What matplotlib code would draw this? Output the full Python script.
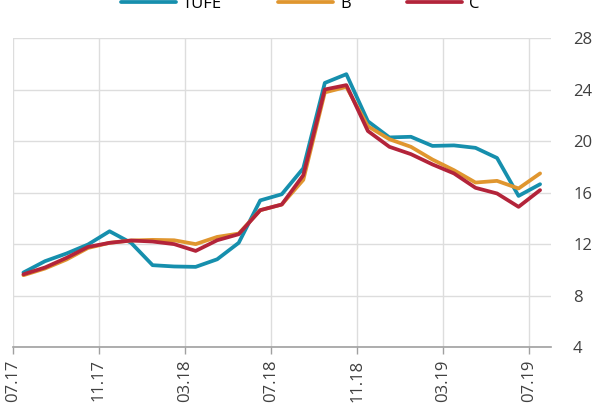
import matplotlib
matplotlib.use("Agg")
import matplotlib.pyplot as plt
import numpy as np

plt.rcParams['font.family'] = ['Open Sans', 'DejaVu Sans']

months = ["07.17", "08.17", "09.17", "10.17", "11.17", "12.17", "01.18", "02.18", "03.18",
          "04.18", "05.18", "06.18", "07.18", "08.18", "09.18", "10.18", "11.18", "12.18",
          "01.19", "02.19", "03.19", "04.19", "05.19", "06.19", "07.19"]
tufe = [9.79, 10.67, 11.27, 11.97, 13.0, 12.1, 10.36, 10.26, 10.23, 10.82, 12.1, 15.4, 15.88,
        17.9, 24.54, 25.22, 21.56, 20.3, 20.35, 19.64, 19.68, 19.49, 18.7, 15.75, 16.66]
b = [9.58, 10.1, 10.8, 11.7, 12.1, 12.28, 12.33, 12.3, 12.0, 12.56, 12.82, 14.64, 15.08,
     17.0, 23.8, 24.23, 21.17, 20.16, 19.57, 18.58, 17.75, 16.79, 16.92, 16.33, 17.5]
c = [9.65, 10.18, 10.93, 11.78, 12.1, 12.28, 12.2, 12.0, 11.47, 12.3, 12.77, 14.64, 15.08,
     17.36, 24.03, 24.37, 20.8, 19.57, 19.0, 18.2, 17.5, 16.38, 15.94, 14.9, 16.2]
series_names = ["TÜFE", "B", "C"]
colors = ["#168fad", "#e0962f", "#b3243a"]
yticks = [4, 8, 12, 16, 20, 24, 28]

fig = plt.figure(figsize=(6.04, 4.18), dpi=100)
ax = fig.add_axes([0.021, 0.170, 0.891, 0.738])

x = np.arange(len(months))
for vals, name, col in zip([tufe, b, c], series_names, colors):
    ax.plot(x, vals, color=col, lw=2.7, label=name, solid_capstyle='round', solid_joinstyle='round')

tick_idx = list(range(0, len(months), 4))
ax.set_xticks([i - 0.5 for i in tick_idx])
ax.set_xticklabels([months[i] for i in tick_idx], rotation=90, fontsize=12, color="#404040")
ax.set_xlim(-0.5, len(months) - 0.5)
ax.set_ylim(4, 28)
ax.set_yticks(yticks)
ax.yaxis.tick_right()
ax.tick_params(axis='y', length=0, pad=16, labelsize=12, labelcolor="#404040")
ax.tick_params(axis='x', length=5, color="#a0a0a0", width=1, pad=4)
ax.grid(True, color="#dddddd", lw=1)
ax.set_axisbelow(True)
for s in ['top', 'right', 'left']:
    ax.spines[s].set_visible(False)
ax.spines['bottom'].set_color("#a0a0a0")
ax.spines['bottom'].set_linewidth(1.2)

fig.legend(loc='center', bbox_to_anchor=(0.497, 0.99), ncol=3, frameon=False, fontsize=12,
           handlelength=3.3, handletextpad=0.4, columnspacing=3.4)

fig.savefig("out.png", dpi=100)
